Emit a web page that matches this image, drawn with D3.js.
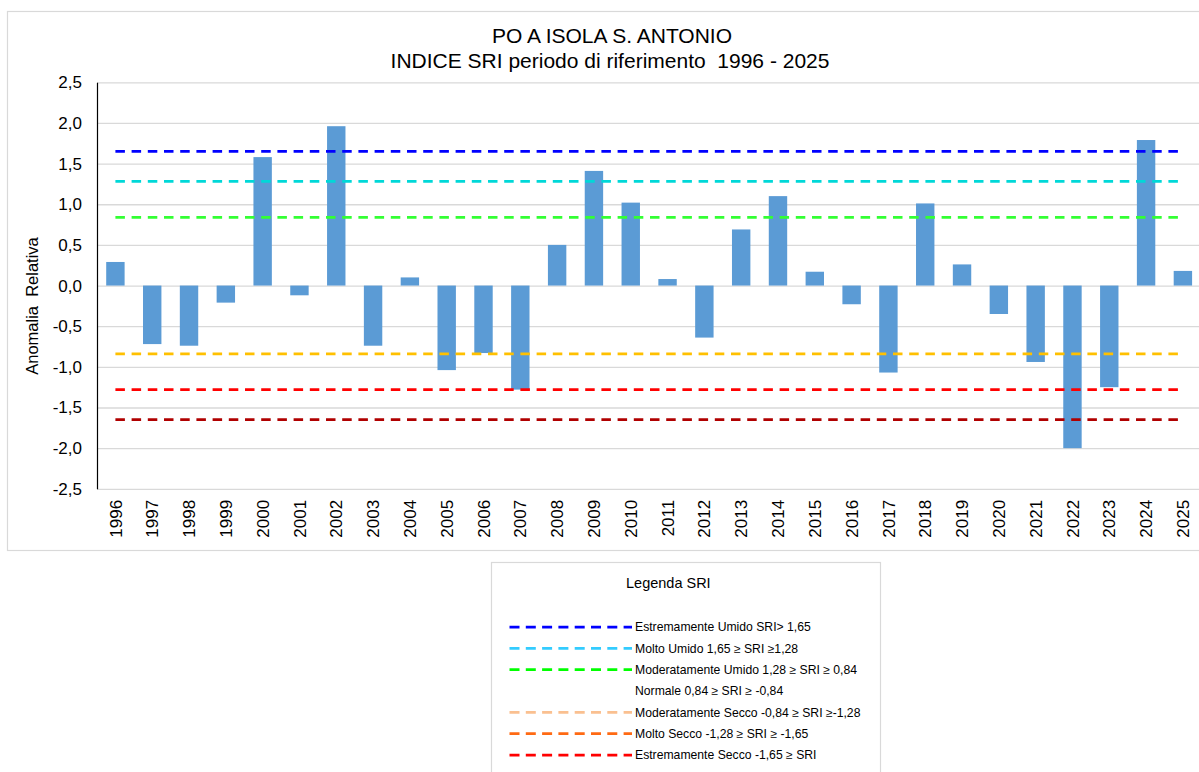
<!DOCTYPE html>
<html>
<head>
<meta charset="utf-8">
<script src="https://cdn.jsdelivr.net/npm/d3@7"></script>
<style>
  body { margin: 0; background: #fff; }
  text { font-family: "Liberation Sans", Arial, sans-serif; fill: #000; }
</style>
</head>
<body>
<svg id="chart" width="1199" height="772"></svg>
<script>
// dati
var years = ["1996", "1997", "1998", "1999", "2000", "2001", "2002", "2003", "2004", "2005",
             "2006", "2007", "2008", "2009", "2010", "2011", "2012", "2013", "2014", "2015",
             "2016", "2017", "2018", "2019", "2020", "2021", "2022", "2023", "2024", "2025"];
var sriValues = [0.29, -0.72, -0.74, -0.21, 1.58, -0.12, 1.96, -0.74, 0.10, -1.04,
                 -0.83, -1.28, 0.50, 1.41, 1.02, 0.08, -0.64, 0.69, 1.10, 0.17,
                 -0.23, -1.07, 1.01, 0.26, -0.35, -0.94, -2.00, -1.25, 1.79, 0.18];
var yTicks = [-2.5, -2.0, -1.5, -1.0, -0.5, 0.0, 0.5, 1.0, 1.5, 2.0, 2.5];

// soglie SRI disegnate sul grafico
var thresholds = [1.65, 1.28, 0.84, -0.84, -1.28, -1.65];
var thresholdColors = ["#0000FF", "#00D8D8", "#33FF33", "#FFC000", "#FF0000", "#B00000"];

// legenda
var legendLabels = ["Estremamente Umido SRI> 1,65",
                    "Molto Umido 1,65 \u2265 SRI \u22651,28",
                    "Moderatamente Umido 1,28 \u2265 SRI \u2265 0,84",
                    "Normale 0,84 \u2265 SRI \u2265 -0,84",
                    "Moderatamente Secco -0,84 \u2265 SRI \u2265-1,28",
                    "Molto Secco -1,28 \u2265 SRI \u2265 -1,65",
                    "Estremamente Secco -1,65 \u2265 SRI"];
var legendColors = ["#0000FF", "#33CCFF", "#00FF00", null, "#FAC090", "#FF6A13", "#FF0000"];

var svg = d3.select("#chart");
var BAR_COLOR = "#5B9BD5";
var GRID_COLOR = "#D9D9D9";

svg.append("rect").attr("width", 1199).attr("height", 772).attr("fill", "#fff");
// cornice del grafico
svg.append("rect").attr("x", 7.5).attr("y", 11.5).attr("width", 1210).attr("height", 539)
    .attr("fill", "none").attr("stroke", GRID_COLOR).attr("stroke-width", 1.2);

var pLeft = 97, pRight = 1201.3, pTop = 82.3, pBottom = 488.8;

var x = d3.scaleBand().domain(years).range([pLeft, pRight]).paddingInner(0.5).paddingOuter(0.25);
var y = d3.scaleLinear().domain([-2.5, 2.5]).range([pBottom, pTop]);

// griglia
var grid = svg.append("g").attr("transform", "translate(" + pLeft + ",0)")
    .call(d3.axisLeft(y).tickValues(yTicks).tickSize(-(pRight - pLeft)).tickFormat(""));
grid.select(".domain").remove();
grid.selectAll("line").attr("stroke", GRID_COLOR).attr("stroke-width", 1.3);

// barre
svg.append("g").selectAll("rect").data(sriValues).enter().append("rect")
    .attr("x", function (d, i) { return x(years[i]); })
    .attr("width", x.bandwidth())
    .attr("y", function (d) { return y(Math.max(0, d)); })
    .attr("height", function (d) { return Math.abs(y(d) - y(0)); })
    .attr("fill", BAR_COLOR);

// linee di soglia
var xStart = x(years[0]) + x.bandwidth() / 2;
var xEnd = x(years[years.length - 1]) + x.bandwidth() / 2;
svg.append("g").selectAll("line").data(thresholds).enter().append("line")
    .attr("x1", xStart).attr("x2", xEnd)
    .attr("y1", function (d) { return y(d); }).attr("y2", function (d) { return y(d); })
    .attr("stroke", function (d, i) { return thresholdColors[i]; })
    .attr("stroke-width", 2.75)
    .attr("stroke-dasharray", "9.5,6.7");

// asse y
var yAxis = svg.append("g").attr("transform", "translate(" + pLeft + ",0)")
    .call(d3.axisLeft(y).tickValues(yTicks).tickSize(0).tickPadding(15)
        .tickFormat(function (d) { return d.toFixed(1).replace(".", ","); }));
yAxis.select(".domain").attr("stroke", "#000").attr("stroke-width", 1.2);
yAxis.selectAll("text").style("font-size", "17px").attr("fill", "#000");

// asse x
var xAxis = svg.append("g").attr("transform", "translate(0," + pBottom + ")")
    .call(d3.axisBottom(x).tickSize(0));
xAxis.select(".domain").remove();
xAxis.selectAll("text")
    .style("font-size", "17px").attr("fill", "#000")
    .attr("text-anchor", "end")
    .attr("transform", "translate(0,11) rotate(-90)")
    .attr("x", 0).attr("y", 0).attr("dy", "0.36em");

// titolo asse
svg.append("text").attr("transform", "translate(32,306) rotate(-90)")
    .attr("text-anchor", "middle").attr("dy", "0.36em")
    .style("font-size", "16.5px").style("white-space", "pre")
    .text("Anomalia  Relativa");

// titolo
svg.append("text").attr("x", 612).attr("y", 43).attr("text-anchor", "middle")
    .style("font-size", "21px").text("PO A ISOLA S. ANTONIO");
svg.append("text").attr("x", 610).attr("y", 68).attr("text-anchor", "middle")
    .style("font-size", "21px").style("white-space", "pre")
    .text("INDICE SRI periodo di riferimento  1996 - 2025");

// riquadro legenda
var lg = svg.append("g");
lg.append("rect").attr("x", 491.5).attr("y", 562.5).attr("width", 389).attr("height", 230)
    .attr("fill", "#fff").attr("stroke", GRID_COLOR).attr("stroke-width", 1.2);
lg.append("text").attr("x", 626).attr("y", 588).style("font-size", "14.5px").text("Legenda SRI");

var rowY = d3.scaleLinear().domain([0, 6]).range([627, 755]);
var rows = lg.selectAll("g.row").data(legendLabels).enter().append("g").attr("class", "row")
    .attr("transform", function (d, i) { return "translate(0," + rowY(i) + ")"; });
rows.filter(function (d, i) { return legendColors[i] !== null; })
    .append("line").attr("x1", 509.5).attr("x2", 632).attr("y1", 0).attr("y2", 0)
    .attr("stroke", function (d) { return legendColors[legendLabels.indexOf(d)]; })
    .attr("stroke-width", 2.75).attr("stroke-dasharray", "10,6.3");
rows.append("text").attr("x", 635).attr("dy", "0.36em").style("font-size", "12.2px")
    .text(function (d) { return d; });
</script>
</body>
</html>
